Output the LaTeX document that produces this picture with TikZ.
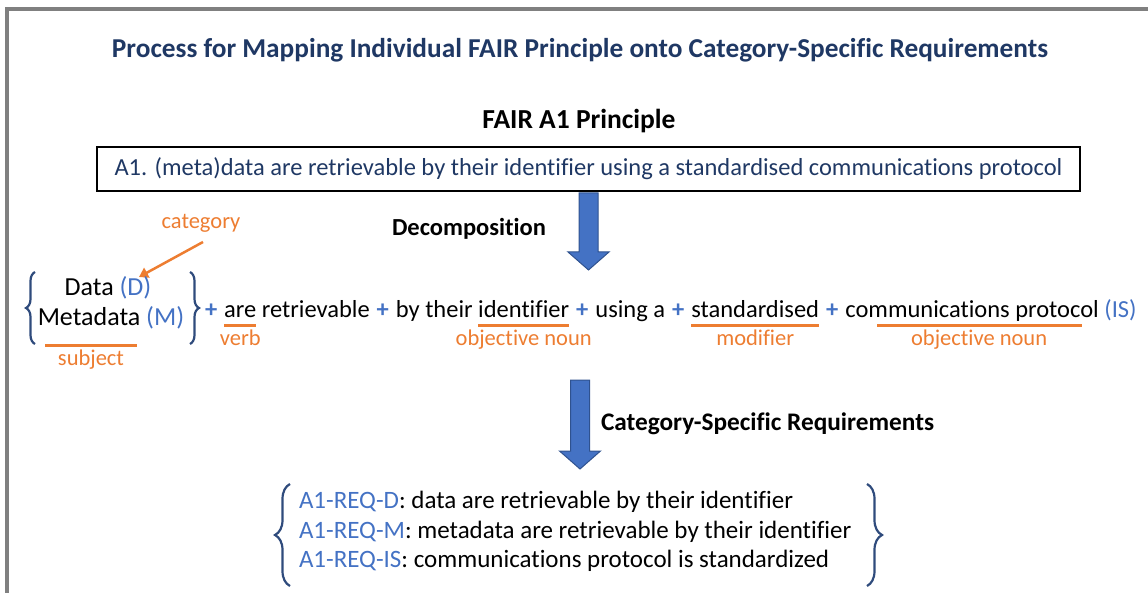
\documentclass[tikz,border=0pt]{standalone}
\usepackage{fontspec}
\setmainfont[Ligatures=NoCommon]{Carlito}
\usetikzlibrary{decorations.pathreplacing,arrows.meta,calc}
\definecolor{navy}{HTML}{1F3864}
\definecolor{bl}{HTML}{4472C4}
\definecolor{org}{HTML}{ED7D31}
\definecolor{brc}{HTML}{2F4B7C}
\definecolor{arrdraw}{HTML}{2F528F}
\definecolor{frame}{HTML}{808080}
\newcommand\mainsize{\fontsize{24.5}{29}\selectfont}
\newcommand\lblsize{\fontsize{22.5}{26}\selectfont}
\newcommand\sw{5.5}
\newcommand\pw{7}
\begin{document}
\begin{tikzpicture}[x=1pt,y=-1pt,
  txt/.style={inner sep=0pt,outer sep=0pt,anchor=base west,font=\mainsize},
  lbl/.style={inner sep=0pt,outer sep=0pt,anchor=base,font=\lblsize,text=org},
  hdr/.style={inner sep=0pt,outer sep=0pt,font=\mainsize\bfseries},
  plus/.style={txt,text=bl,font=\mainsize\bfseries},
  isst/.style={txt,text=bl},
  ul/.style={draw=org,line width=3pt},
  brace/.style={draw=brc,line width=2.2pt,decorate,decoration={brace,amplitude=#1}},
  blockarrow/.style={fill=bl,draw=arrdraw,line width=1pt,line join=miter},
]
\useasboundingbox (0,0) rectangle (1148,593);
% frame
\draw[frame,line width=4pt] (7,595) -- (7,9) -- (1150,9);

% title
\node[hdr,font=\fontsize{27.3}{32}\selectfont\bfseries,text=navy] (title) at (580,50) {Process for Mapping Individual FAIR Principle onto Category-Specific Requirements};
\node[hdr,anchor=base,font=\fontsize{27.5}{32}\selectfont\bfseries] (fair) at (579,129) {FAIR A1 Principle};
\node[draw=black,line width=2pt,minimum width=983,minimum height=44,inner sep=0pt,font=\mainsize,text=navy] (box) at (588.5,169) {A1. (meta)data are retrievable by their identifier using a standardised communications protocol};

% arrow 1
\draw[blockarrow] ($(box.south)+(-9.5,1)$) -- ++(19,0) -- ++(0,59) -- ++(11,0) -- ++(-20.5,18) -- ++(-20.5,-18) -- ++(11,0) -- cycle;
\node[hdr,anchor=base west] (decomp) at (392,236) {Decomposition};

% category
\node[lbl] (cat) at (201,229) {category};
\coordinate (catStart) at (203,242);
\coordinate (catTip) at (139,277);
\draw[org,line width=2.5pt,-{Triangle[length=9pt,width=11pt]}] (catStart) -- (catTip);

% subject group
\node[txt,anchor=base,font=\fontsize{26}{30}\selectfont] (data) at (108,296) {Data \textcolor{bl}{(D)}};
\node[txt,anchor=base,font=\fontsize{26}{30}\selectfont] (meta) at (111,326) {Metadata \textcolor{bl}{(M)}};
\draw[brace=9pt] (35,344) -- (35,272);
\draw[brace=9pt] (190,272) -- (190,344);
\draw[ul] (45,346) -- (137,346);
\node[lbl] (subj) at (91,366) {subject};

% main line
\node[plus] (p1) at (205,318) {+};
\node[txt] (are) at ($(p1.base east)+(\pw,0)$) {are};
\node[txt] (retr) at ($(are.base east)+(\sw,0)$) {retrievable};
\node[plus] (p2) at ($(retr.base east)+(\pw,0)$) {+};
\node[txt] (byth) at ($(p2.base east)+(\pw,0)$) {by their};
\node[txt] (ident) at ($(byth.base east)+(\sw,0)$) {identifier};
\node[plus] (p3) at ($(ident.base east)+(\pw,0)$) {+};
\node[txt] (using) at ($(p3.base east)+(\pw,0)$) {using a};
\node[plus] (p4) at ($(using.base east)+(\pw,0)$) {+};
\node[txt] (std) at ($(p4.base east)+(\pw,0)$) {standardised};
\node[plus] (p5) at ($(std.base east)+(\pw,0)$) {+};
\node[txt] (comm) at ($(p5.base east)+(\pw,0)$) {communications protocol};
\node[isst] (is) at ($(comm.base east)+(\sw,0)$) {(IS)};

\draw[ul] ($(are.base west)+(0,8)$) -- ($(are.base east)+(0,8)$);
\draw[ul] ($(ident.base west)+(0,8)$) -- ($(ident.base east)+(0,8)$);
\draw[ul] ($(std.base west)+(0,8)$) -- ($(std.base east)+(0,8)$);
\draw[ul] ($(comm.base west)+(32,8)$) -- ($(comm.base east)+(-17,8)$);

\node[lbl] (lverb) at ($(are.base)+(0,27)$) {verb};
\node[lbl] (lobj1) at ($(ident.base)+(0,27)$) {objective noun};
\node[lbl] (lmod) at ($(std.base)+(0,27)$) {modifier};
\node[lbl] (lobj2) at ($(comm.base)+(7,27)$) {objective noun};

% arrow 2
\coordinate (a2) at (580,380);
\draw[blockarrow] ($(a2)+(-9.5,0)$) -- ++(19,0) -- ++(0,71) -- ++(11,0) -- ++(-20.5,18) -- ++(-20.5,-18) -- ++(11,0) -- cycle;
\node[hdr,anchor=base west,font=\fontsize{25.3}{30}\selectfont\bfseries] (csr) at (601,430) {Category-Specific Requirements};

% requirements
\node[txt,font=\fontsize{25}{30}\selectfont] (r1) at (299,508) {\textcolor{bl}{A1-REQ-D}: data are retrievable by their identifier};
\node[txt,font=\fontsize{25}{30}\selectfont] (r2) at (299,538) {\textcolor{bl}{A1-REQ-M}: metadata are retrievable by their identifier};
\node[txt,font=\fontsize{25}{30}\selectfont] (r3) at (299,567) {\textcolor{bl}{A1-REQ-IS}: communications protocol is standardized};
\draw[brace=15pt] (290,586) -- (290,484);
\draw[brace=15pt] (867,484) -- (867,586);
\end{tikzpicture}
\end{document}
